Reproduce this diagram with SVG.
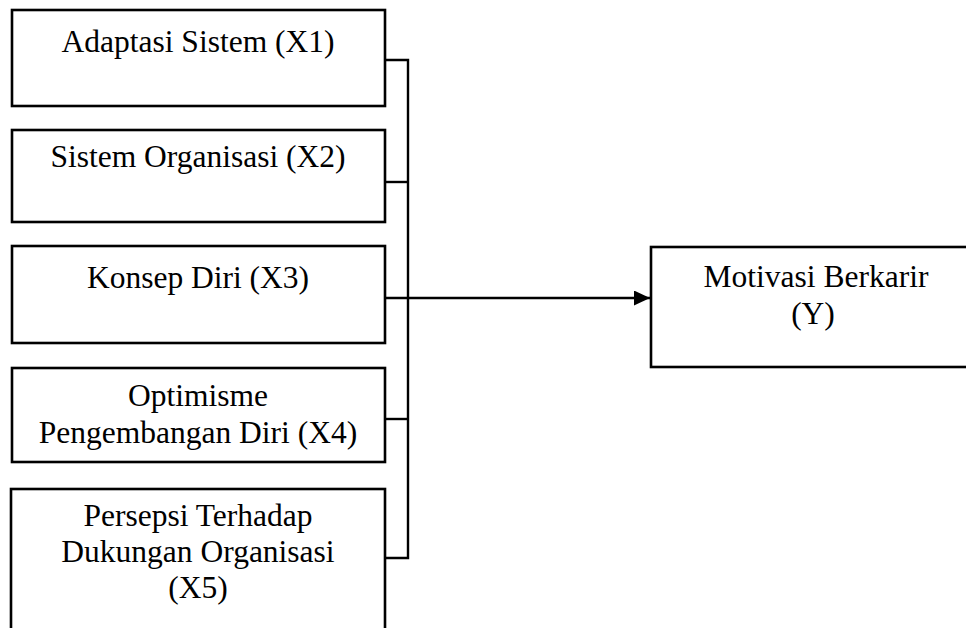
<svg xmlns="http://www.w3.org/2000/svg" width="966" height="628" viewBox="0 0 966 628">
<style>
.box{fill:#fff;stroke:#000;stroke-width:2.6}
.t{font-family:"Liberation Serif","Times New Roman",serif;font-size:31.5px;fill:#000;text-anchor:middle}
.ln{fill:none;stroke:#000;stroke-width:2.4}
</style>
<defs>
<marker id="ah" markerWidth="17" markerHeight="16" refX="16" refY="7.5" orient="auto" markerUnits="userSpaceOnUse">
<path d="M0,0 L16,7.5 L0,15 Z" fill="#000"/>
</marker>
</defs>
<rect width="966" height="628" fill="#fff"/>
<g id="connectors">
<path class="ln" d="M385,60 H408 V558 H385"/>
<path class="ln" d="M385,182 H408"/>
<path class="ln" d="M385,419 H408"/>
<path class="ln" stroke-width="3" d="M385,298 H650" marker-end="url(#ah)"/>
</g>
<g id="x1">
<rect class="box" x="12" y="10" width="373" height="96"/>
<text class="t" x="198" y="52">Adaptasi Sistem (X1)</text>
</g>
<g id="x2">
<rect class="box" x="12" y="130" width="373" height="92"/>
<text class="t" x="198" y="167">Sistem Organisasi (X2)</text>
</g>
<g id="x3">
<rect class="box" x="12" y="246" width="373" height="97"/>
<text class="t" x="198" y="288">Konsep Diri (X3)</text>
</g>
<g id="x4">
<rect class="box" x="12" y="368" width="373" height="94"/>
<text class="t" x="198" y="406">Optimisme</text>
<text class="t" x="198" y="443">Pengembangan Diri (X4)</text>
</g>
<g id="x5">
<rect class="box" x="11" y="489" width="374" height="160"/>
<text class="t" x="198" y="526">Persepsi Terhadap</text>
<text class="t" x="198" y="562">Dukungan Organisasi</text>
<text class="t" x="198" y="598">(X5)</text>
</g>
<g id="y">
<rect class="box" x="651" y="247" width="330" height="120"/>
<text class="t" x="816" y="287">Motivasi Berkarir</text>
<text class="t" x="813" y="324">(Y)</text>
</g>
</svg>
